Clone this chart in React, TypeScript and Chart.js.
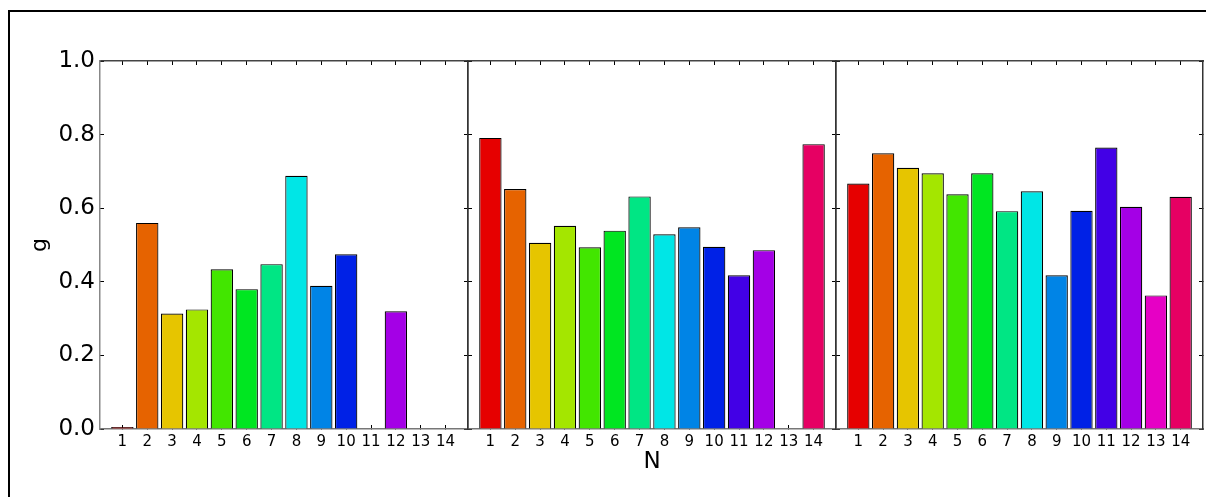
import React, { useEffect, useRef } from "react";
import { Chart, registerables } from "chart.js";

Chart.register(...registerables);

// ---- data ----
const categories = [1, 2, 3, 4, 5, 6, 7, 8, 9, 10, 11, 12, 13, 14];
const xTickValues = [1, 2, 3, 4, 5, 6, 7, 8, 9, 10, 11, 12, 13, 14];
const yTickValues = [0, 0.2, 0.4, 0.6, 0.8, 1.0];
const yTickLabels = ["0.0", "0.2", "0.4", "0.6", "0.8", "1.0"];

const panel1Values: (number | null)[] = [0, 0.56, 0.314, 0.325, 0.434, 0.38, 0.448, 0.688, 0.389, 0.475, null, 0.32, null, null];
const panel2Values: (number | null)[] = [0.791, 0.652, 0.506, 0.552, 0.494, 0.539, 0.632, 0.529, 0.548, 0.495, 0.418, 0.486, null, 0.774];
const panel3Values: (number | null)[] = [0.667, 0.749, 0.71, 0.695, 0.638, 0.695, 0.592, 0.646, 0.418, 0.593, 0.765, 0.604, 0.363, 0.631];

const barColors = [
  "#e60000", "#e66300", "#e6c500", "#a4e600", "#42e600", "#00e621", "#00e684",
  "#00e6e6", "#0084e6", "#0021e6", "#4200e6", "#a400e6", "#e600c5", "#e60063",
];

const W = 1206;
const H = 497;
const TOP = 61;
const BOTTOM = 429;
const FONT = "'DejaVu Sans', sans-serif";

type Panel = {
  values: (number | null)[];
  left: number;
  right: number;
  showY: boolean;
  xTitle: boolean;
  leftBorder: string;
};

const panels: Panel[] = [
  { values: panel1Values, left: 100, right: 468, showY: true, xTitle: false, leftBorder: "#888" },
  { values: panel2Values, left: 468, right: 836, showY: false, xTitle: true, leftBorder: "#333" },
  { values: panel3Values, left: 836, right: 1203, showY: false, xTitle: false, leftBorder: "#333" },
];

function PanelChart({ p }: { p: Panel }) {
  const ref = useRef<HTMLCanvasElement | null>(null);
  useEffect(() => {
    if (!ref.current) return;
    const setX = (s: any) => {
      s.ticks = xTickValues.map((v) => ({ value: v }));
    };
    const setY = (s: any) => {
      s.ticks = yTickValues.map((v) => ({ value: v }));
    };
    const chart = new Chart(ref.current, {
      type: "bar",
      data: {
        datasets: [
          {
            data: categories.map((c, i) => ({ x: c, y: p.values[i] })) as any,
            backgroundColor: barColors,
            borderColor: "#000",
            borderWidth: 1.2,
            barPercentage: 0.9,
            categoryPercentage: 1,
            minBarLength: 2,
            xAxisID: "x",
            yAxisID: "y",
          } as any,
        ],
      },
      options: {
        animation: false,
        responsive: false,
        maintainAspectRatio: false,
        devicePixelRatio: 1,
        events: [],
        layout: {
          padding: { left: p.showY ? 0 : p.left, right: W - p.right, top: TOP, bottom: 0 },
        },
        plugins: { legend: { display: false }, tooltip: { enabled: false } },
        scales: {
          x: {
            type: "linear",
            position: "bottom",
            offset: false,
            min: 0.1,
            max: 14.9,
            afterBuildTicks: setX,
            afterFit: (s: any) => {
              s.height = H - BOTTOM;
            },
            ticks: {
              autoSkip: false,
              maxRotation: 0,
              padding: 8,
              color: "#000",
              font: { family: FONT, size: 15 },
              callback: (v: any) => String(v),
            },
            grid: { drawOnChartArea: false, offset: false, tickLength: -4, color: "#000", tickWidth: 1 },
            border: { display: true, color: "#777", width: 1.5 },
            title: {
              display: p.xTitle,
              text: "N",
              color: "#000",
              font: { family: FONT, size: 23 },
              padding: { top: 0, bottom: 21 },
            },
          },
          x2: {
            type: "linear",
            position: "top",
            offset: false,
            min: 0.1,
            max: 14.9,
            afterBuildTicks: setX,
            afterFit: (s: any) => {
              s.height = 0;
            },
            ticks: { display: false },
            grid: { drawOnChartArea: false, offset: false, tickLength: -4, color: "#000", tickWidth: 1 },
            border: { display: true, color: "#444", width: 1.5 },
          },
          y: {
            type: "linear",
            position: "left",
            min: 0,
            max: 1,
            afterBuildTicks: setY,
            afterFit: (s: any) => {
              s.width = p.showY ? p.left : 0;
            },
            ticks: {
              display: p.showY,
              padding: 9,
              color: "#000",
              font: { family: FONT, size: 23 },
              callback: (_v: any, i: number) => yTickLabels[i],
            },
            grid: { drawOnChartArea: false, tickLength: -4, color: "#000", tickWidth: 1 },
            border: { display: true, color: p.leftBorder, width: 1.5 },
            title: {
              display: p.showY,
              text: "g",
              color: "#000",
              font: { family: FONT, size: 22 },
              padding: { top: 27, bottom: 0 },
            },
          },
          y2: {
            type: "linear",
            position: "right",
            min: 0,
            max: 1,
            afterBuildTicks: setY,
            afterFit: (s: any) => {
              s.width = 0;
            },
            ticks: { display: false },
            grid: { drawOnChartArea: false, tickLength: -4, color: "#000", tickWidth: 1 },
            border: { display: true, color: "#333", width: 1.5 },
          },
        },
      } as any,
    });
    return () => chart.destroy();
  }, [p]);
  return (
    <canvas
      ref={ref}
      width={W}
      height={H}
      style={{ position: "absolute", left: 0, top: 0, width: W, height: H }}
    />
  );
}

export default function App() {
  return (
    <div
      style={{
        position: "absolute",
        left: 0,
        top: 0,
        width: W,
        height: H,
        overflow: "hidden",
        background: "#fff",
      }}
    >
      <div
        style={{
          position: "absolute",
          left: 8,
          top: 10,
          width: 1300,
          height: 600,
          border: "2px solid #000",
          boxSizing: "border-box",
        }}
      />
      {panels.map((p, i) => (
        <PanelChart key={i} p={p} />
      ))}
    </div>
  );
}
